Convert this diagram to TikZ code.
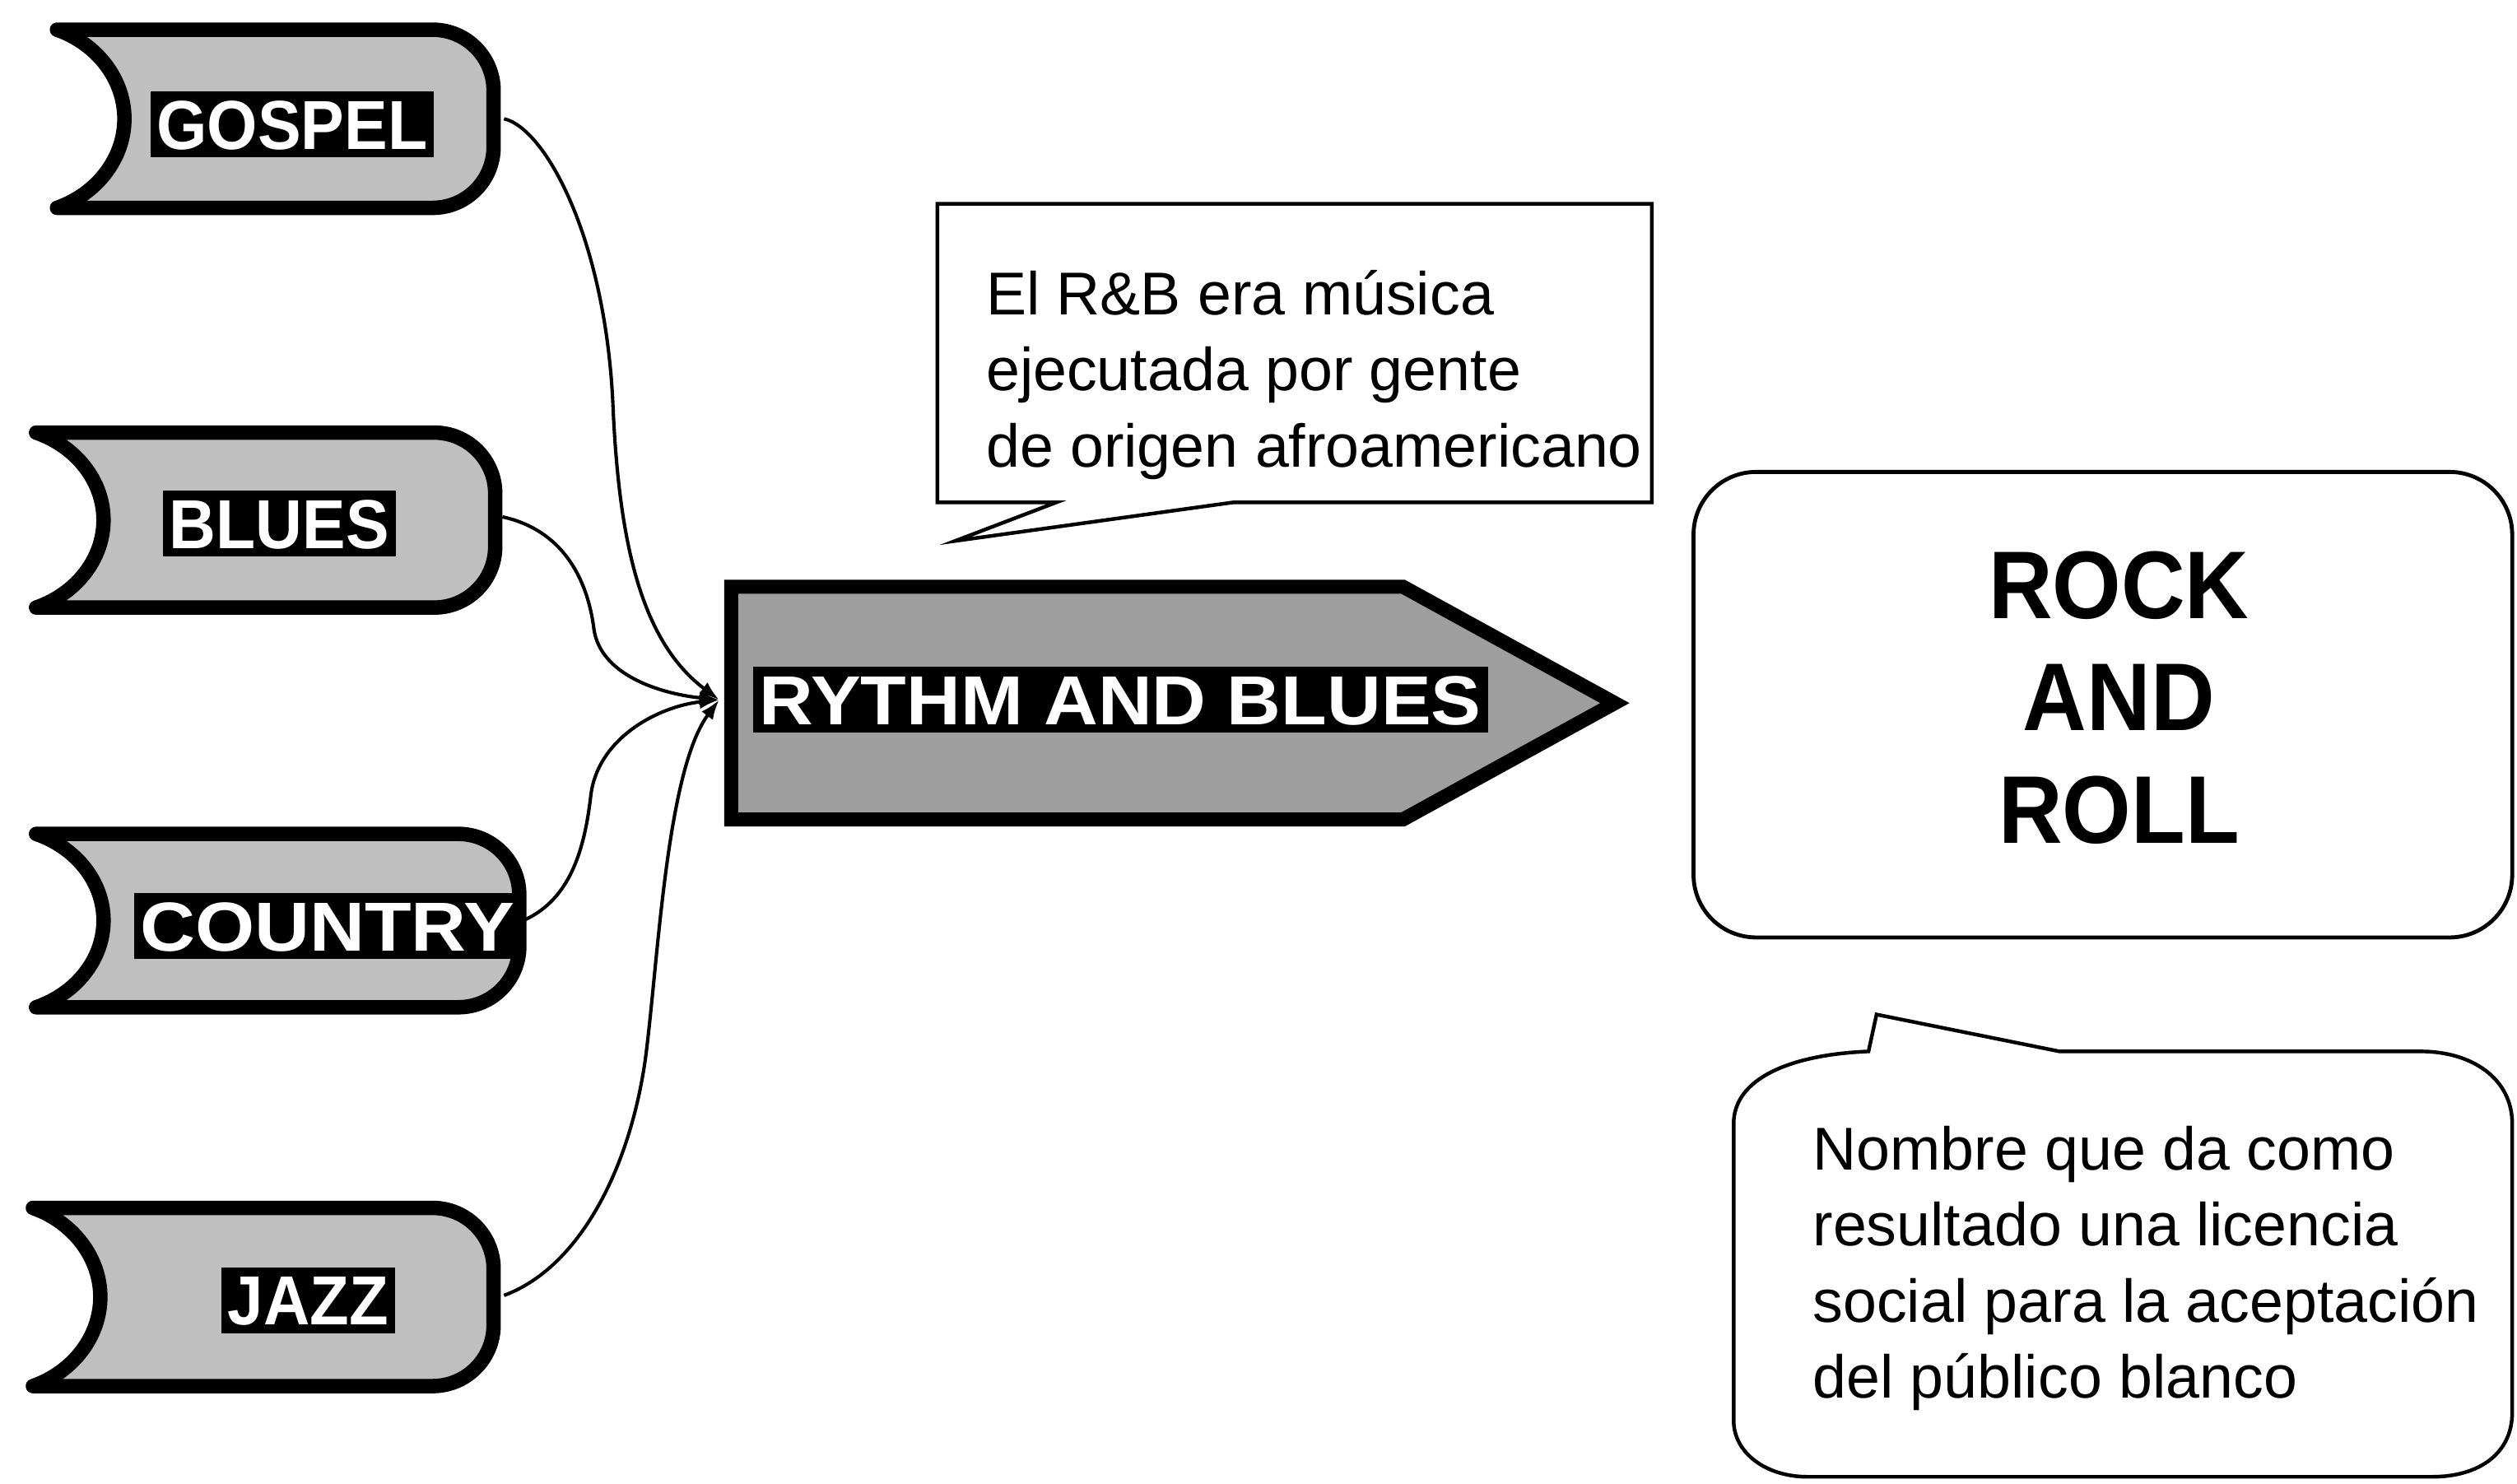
\documentclass[tikz,border=0pt]{standalone}
\usepackage{fontspec}
\usepackage{graphicx}
\setmainfont{Liberation Sans}
\newfontfamily\rockfamily{Liberation Sans}[FakeStretch=0.92]
\usetikzlibrary{arrows.meta}
\newcommand\lblfont{\fontsize{24.6}{28}\selectfont\bfseries}
\newcommand\notefont{\fontsize{21.45}{27}\selectfont}
\newcommand\rrfont{\rockfamily\fontsize{34.1}{39.8}\selectfont\bfseries}
\newcommand\mkbanner[4]{%
  \pgfmathsetmacro\BnH{#4-#3}%
  \pgfmathsetmacro\BnM{(#3+#4)/2}%
  \pgfmathsetmacro\BnR{38}%
  \pgfmathsetmacro\BnK{38*0.448}%
  \pgfmathsetmacro\BnD{42}%
  \draw[bannerbox] (#1,#3) -- ({#2-\BnR},#3)
    .. controls ({#2-\BnK},#3) and (#2,{#3+\BnK}) .. (#2,{#3+\BnR})
    -- (#2,{#4-\BnR})
    .. controls (#2,{#4-\BnK}) and ({#2-\BnK},#4) .. ({#2-\BnR},#4)
    -- (#1,#4)
    .. controls ({#1+0.6*\BnD},{#4-0.08*\BnH}) and ({#1+\BnD},{#4-0.28*\BnH}) .. ({#1+\BnD},\BnM)
    .. controls ({#1+\BnD},{#3+0.28*\BnH}) and ({#1+0.6*\BnD},{#3+0.08*\BnH}) .. (#1,#3) -- cycle;%
}
\begin{document}
\begin{tikzpicture}[x=0.2mm, y=-0.2mm,
  bannerbox/.style={draw=black, line width=1.8mm, fill=black!25, line join=round},
  arrowbox/.style={draw=black, line width=1.75mm, fill=black!38, line join=miter},
  lbl/.style={fill=black, text=white, font=\lblfont, inner xsep=0.8mm, inner ysep=1mm,
    text height=6.2mm, text depth=0pt},
  conn/.style={draw=black, line width=1.2pt, -{Latex[length=7pt,width=5pt]}},
  notebox/.style={draw=black, line width=1.3pt, fill=white, line join=miter},
  notetxt/.style={font=\notefont, align=left, inner sep=0pt, anchor=north west},
  rockbox/.style={draw=black, line width=1.4pt, rounded corners=7.8mm},
  rocktxt/.style={font=\rrfont, align=center, inner sep=0pt, anchor=north}
]
\useasboundingbox (0,0) rectangle (1568,924);
\fill[white] (0,0) rectangle (1568,924);

% banners
\mkbanner{35.5}{307.5}{18.5}{129.5}
\node[lbl] (gospel) at (182,77.5) {\scalebox{0.936}[1]{GOSPEL}};
\mkbanner{22.5}{308.5}{269.5}{378.5}
\node[lbl] (blues) at (174,326) {\scalebox{0.934}[1]{BLUES}};
\mkbanner{22.5}{323.5}{519.5}{627.5}
\node[lbl] (country) at (204,577) {\scalebox{1.10}[1]{COUNTRY}};
\mkbanner{20.5}{307.5}{752.5}{863.5}
\node[lbl] (jazz) at (192,810) {\scalebox{0.925}[1]{JAZZ}};

% rhythm and blues arrow
\draw[arrowbox] (455.5,365.5) -- (874,365.5) -- (1006,438) -- (874,510.5) -- (455.5,510.5) -- cycle;
\node[lbl] (rb) at (698,436) {\scalebox{1.08}[1]{RYTHM AND BLUES}};

% connection points
\coordinate (gE) at (314,74);
\coordinate (bE) at (313,322);
\coordinate (cE) at (327,573);
\coordinate (jE) at (314,807);
\coordinate (rbW) at (448,436);

\draw[conn] (gE) .. controls (340,80) and (378,150) .. (382,256)
  .. controls (386,340) and (400,400) .. (rbW);
\draw[conn] (bE) .. controls (350,330) and (366,360) .. (370,392)
  .. controls (374,420) and (410,432) .. (rbW);
\draw[conn] (cE) .. controls (355,560) and (364,530) .. (368,496)
  .. controls (372,460) and (410,440) .. (rbW);
\draw[conn] (jE) .. controls (360,790) and (392,730) .. (402,660)
  .. controls (410,600) and (415,480) .. (rbW);

% top callout
\draw[notebox] (584,127) -- (1029,127) -- (1029,313) -- (768,313) -- (595,337)
  -- (658,313) -- (584,313) -- cycle;
\node[notetxt] (rbnote) at (614,168) {El R\&B era música\\ejecutada por gente\\de origen afroamericano};

% rock and roll box
\draw[rockbox] (1055,294) rectangle (1565,584);
\node[rocktxt] (rock) at (1320,343) {ROCK\\AND\\ROLL};

% bottom callout
\draw[notebox] (1164,655) -- (1169,632) -- (1283,655) -- (1508,655)
  .. controls (1540,655) and (1565,672) .. (1565,700)
  -- (1565,880)
  .. controls (1565,905) and (1545,920) .. (1515,920)
  -- (1126,920)
  .. controls (1100,920) and (1080,905) .. (1080,885)
  -- (1080,700)
  .. controls (1080,672) and (1115,657) .. (1164,655) -- cycle;
\node[notetxt] (rrnote) at (1129,701) {Nombre que da como\\resultado una licencia\\social para la aceptación\\del público blanco};
\end{tikzpicture}
\end{document}
